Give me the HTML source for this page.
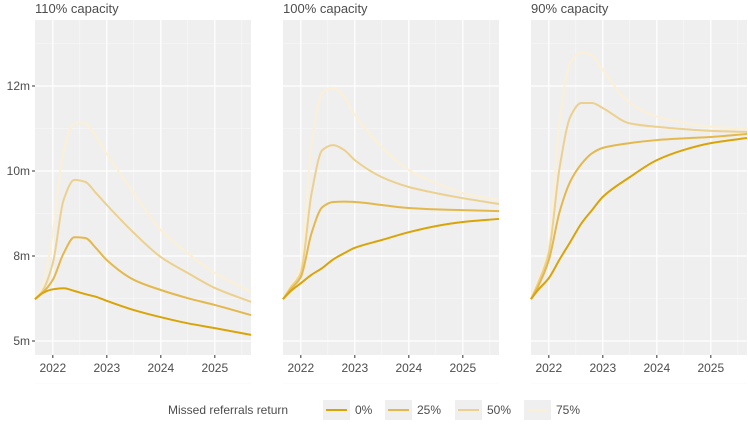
<!DOCTYPE html>
<html><head><meta charset="utf-8"><style>
body{margin:0;background:#fff;font-family:"Liberation Sans","DejaVu Sans",sans-serif}
svg text{font-family:"Liberation Sans","DejaVu Sans",sans-serif;fill:#4d4d4d}
</style></head><body>
<svg id="c" width="748" height="428"></svg>
<script>
const panelTitles=["110% capacity","100% capacity","90% capacity"];
const seriesNames=["0%","25%","50%","75%"];
const years=[2021.67,2021.8,2022,2022.2,2022.4,2022.6,2022.8,2023,2023.5,2024,2024.5,2025,2025.67];
const p1s0=[6.23,6.4,6.52,6.55,6.47,6.38,6.3,6.18,5.91,5.7,5.52,5.38,5.18];
const p1s1=[6.23,6.4,6.8,7.58,8.05,8.03,7.73,7.38,6.8,6.5,6.26,6.06,5.76];
const p1s2=[6.23,6.45,7.29,9.15,9.74,9.68,9.35,9.0,8.18,7.47,7.0,6.56,6.15];
const p1s3=[6.23,6.6,8.18,10.62,11.4,11.4,11.0,10.5,9.35,8.26,7.58,7.0,6.44];
const p2s0=[6.23,6.45,6.7,6.95,7.15,7.4,7.58,7.74,7.97,8.2,8.38,8.5,8.59];
const p2s1=[6.23,6.5,6.88,8.18,8.94,9.09,9.1,9.09,9.0,8.91,8.87,8.85,8.82];
const p2s2=[6.23,6.55,7.0,9.35,10.62,10.76,10.62,10.32,9.82,9.53,9.35,9.2,9.03];
const p2s3=[6.23,6.6,7.18,10.82,12.3,12.44,12.18,11.65,10.7,10.03,9.65,9.35,9.15];
const p3s0=[6.23,6.5,6.85,7.4,7.92,8.45,8.85,9.24,9.82,10.32,10.62,10.82,10.97];
const p3s1=[6.23,6.6,7.38,8.8,9.7,10.2,10.52,10.68,10.82,10.91,10.96,11.0,11.09];
const p3s2=[6.23,6.7,7.6,10.1,11.6,12.0,12.0,11.85,11.4,11.3,11.23,11.18,11.15];
const p3s3=[6.23,6.8,7.76,11.5,13.18,13.5,13.4,12.97,12.0,11.6,11.42,11.3,11.24];
const yTicks=[5,7.5,10,12.5];
const yTickLabels=["5m","8m","10m","12m"];
const xTicks=[2022,2023,2024,2025];
const panels=[[p1s0,p1s1,p1s2,p1s3],[p2s0,p2s1,p2s2,p2s3],[p3s0,p3s1,p3s2,p3s3]];
const colors=["#d9a408","#e3b84d","#ecd08e","#fbf0d6"];
const NS="http://www.w3.org/2000/svg";
const svg=document.getElementById('c');
function mk(t,a,p){const e=document.createElementNS(NS,t);for(const k in a)e.setAttribute(k,a[k]);(p||svg).appendChild(e);return e;}
const plotTop=20,plotBot=355,pw=216,lefts=[35,283,531];
const yS=v=>341-(v-5)*34;
function xs(l){return t=>l+(t-2021.67)*54;}
function path(pts){
  const n=pts.length,dx=[],sl=[],m=[];
  for(let i=0;i<n-1;i++){dx[i]=pts[i+1][0]-pts[i][0];sl[i]=(pts[i+1][1]-pts[i][1])/dx[i];}
  m[0]=sl[0];m[n-1]=sl[n-2];
  for(let i=1;i<n-1;i++){if(sl[i-1]*sl[i]<=0)m[i]=0;else{const w1=2*dx[i]+dx[i-1],w2=dx[i]+2*dx[i-1];m[i]=(w1+w2)/(w1/sl[i-1]+w2/sl[i]);}}
  let d="M"+pts[0][0]+","+pts[0][1];
  for(let i=0;i<n-1;i++){const h=dx[i]/3;d+=" C"+(pts[i][0]+h)+","+(pts[i][1]+m[i]*h)+" "+(pts[i+1][0]-h)+","+(pts[i+1][1]-m[i+1]*h)+" "+pts[i+1][0]+","+pts[i+1][1];}
  return d;}
panels.forEach((ser,pi)=>{
  const l=lefts[pi],x=xs(l);
  const g=mk('g',{});
  
  
  mk('rect',{x:l,y:plotTop,width:pw,height:plotBot-plotTop,fill:'#efefef'},g);
  [3.75,6.25,8.75,11.25,13.75].forEach(m=>mk('line',{x1:l,x2:l+pw,y1:yS(m),y2:yS(m),stroke:'#fafafa','stroke-width':0.6},g));
  [2022.5,2023.5,2024.5,2025.5].forEach(t=>mk('line',{x1:x(t),x2:x(t),y1:plotTop,y2:plotBot,stroke:'#fafafa','stroke-width':0.6},g));
  yTicks.forEach(v=>mk('line',{x1:l,x2:l+pw,y1:yS(v),y2:yS(v),stroke:'#fff','stroke-width':1.2},g));
  xTicks.forEach(t=>{mk('line',{x1:x(t),x2:x(t),y1:plotTop,y2:plotBot,stroke:'#fff','stroke-width':1.2},g);
    mk('line',{x1:x(t),x2:x(t),y1:plotBot,y2:plotBot+3,stroke:'#333'},g);
    const tx=mk('text',{x:x(t),y:plotBot+17,'text-anchor':'middle','font-size':12},g);tx.textContent=t;});
  const tt=mk('text',{x:l,y:13,'font-size':13,fill:'#222'},g);tt.textContent=panelTitles[pi];
  
  
  for(let s=3;s>=0;s--){const pts=ser[s].map((v,i)=>[x(years[i]),yS(v)]);
    const p=mk('path',{d:path(pts),fill:'none',stroke:colors[s],'stroke-width':2},g);
    
    }
  if(pi===0){yTicks.forEach((v,i)=>{mk('line',{x1:l-3,x2:l,y1:yS(v),y2:yS(v),stroke:'#333'},g);
    const t=mk('text',{x:l-5,y:yS(v)+4,'text-anchor':'end','font-size':12},g);t.textContent=yTickLabels[i];});}
});
const lg=mk('g',{});


const lt=mk('text',{x:168,y:414,'font-size':12},lg);lt.textContent="Missed referrals return";
const lx=[323,385,455,524];
seriesNames.forEach((n,i)=>{mk('rect',{x:lx[i],y:400,width:27,height:20,fill:'#efefef'},lg);
  mk('line',{x1:lx[i]+3,x2:lx[i]+24,y1:410,y2:410,stroke:colors[i],'stroke-width':2},lg);
  const t=mk('text',{x:lx[i]+32,y:414,'font-size':12},lg);t.textContent=n;});
</script>
</body></html>
